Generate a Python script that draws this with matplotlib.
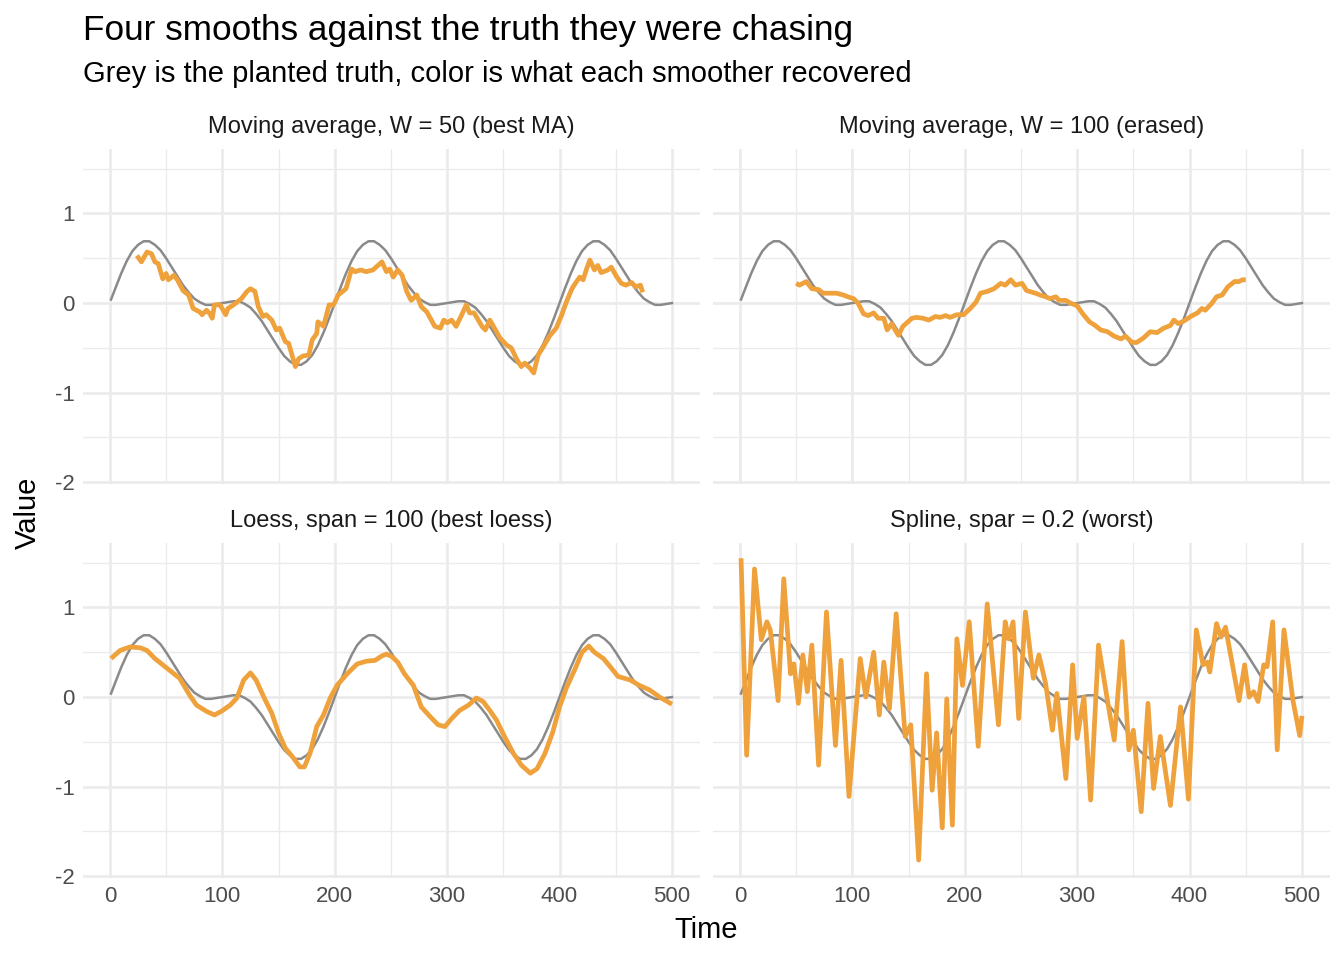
"""Four smoothers (MA, loess, spline) plotted against the planted truth."""
import matplotlib
matplotlib.use('Agg')
import matplotlib.pyplot as plt

plt.rcParams['font.family'] = ['Liberation Sans', 'DejaVu Sans']

# Planted truth
truth_t = [1] + list(range(5, 501, 5))
truth_v = [
    0.04, 0.17, 0.33, 0.47, 0.58, 0.65, 0.69, 0.69, 0.65, 0.59,
    0.50, 0.40, 0.30, 0.20, 0.12, 0.05, 0.01, -0.02, -0.02, -0.01,
    0.00, 0.01, 0.02, 0.02, -0.01, -0.05, -0.12, -0.20, -0.30, -0.40,
    -0.50, -0.59, -0.65, -0.69, -0.69, -0.65, -0.58, -0.47, -0.33, -0.17,
    0.00, 0.17, 0.33, 0.47, 0.58, 0.65, 0.69, 0.69, 0.65, 0.59,
    0.50, 0.40, 0.30, 0.20, 0.12, 0.05, 0.01, -0.02, -0.02, -0.01,
    0.00, 0.01, 0.02, 0.02, -0.01, -0.05, -0.12, -0.20, -0.30, -0.40,
    -0.50, -0.59, -0.65, -0.69, -0.69, -0.65, -0.58, -0.47, -0.33, -0.17,
    0.00, 0.17, 0.33, 0.47, 0.58, 0.65, 0.69, 0.69, 0.65, 0.59,
    0.50, 0.40, 0.30, 0.20, 0.12, 0.05, 0.01, -0.02, -0.02, -0.01,
    0.00,
]

# Moving average, W = 50
ma50_t = [24, 28, 33, 37, 40, 43, 47, 50, 52, 57, 60, 65, 70, 74, 80, 82, 86, 89,
          91, 93, 98, 103, 105, 110, 117, 122, 125, 129, 132, 136, 139, 144, 148,
          151, 156, 159, 162, 165, 168, 172, 177, 180, 184, 185, 190, 195, 199, 203,
          207, 210, 215, 218, 223, 228, 234, 242, 246, 249, 252, 256, 260, 264, 268,
          273, 277, 282, 289, 294, 297, 300, 304, 308, 313, 317, 320, 324, 331, 334,
          338, 343, 347, 353, 357, 362, 366, 369, 374, 377, 381, 385, 391, 397, 402,
          406, 411, 414, 418, 421, 424, 427, 431, 434, 437, 443, 446, 451, 455, 459,
          464, 468, 472, 474]
ma50_v = [0.53, 0.46, 0.57, 0.55, 0.46, 0.44, 0.27, 0.33, 0.26, 0.31, 0.26, 0.14,
          0.09, -0.06, -0.10, -0.13, -0.08, -0.12, -0.17, -0.02, -0.02, -0.13, -0.06,
          -0.02, 0.05, 0.13, 0.16, 0.13, -0.04, -0.15, -0.13, -0.19, -0.30, -0.28,
          -0.43, -0.45, -0.58, -0.71, -0.62, -0.59, -0.58, -0.41, -0.34, -0.21, -0.26,
          -0.02, -0.02, 0.09, 0.13, 0.16, 0.38, 0.35, 0.37, 0.35, 0.37, 0.46, 0.35,
          0.38, 0.29, 0.37, 0.31, 0.13, 0.03, 0.09, -0.04, -0.10, -0.26, -0.28, -0.19,
          -0.22, -0.19, -0.26, -0.13, -0.02, -0.11, -0.11, -0.26, -0.30, -0.19, -0.30,
          -0.39, -0.47, -0.50, -0.63, -0.71, -0.67, -0.73, -0.78, -0.58, -0.50, -0.37,
          -0.28, -0.13, 0.01, 0.16, 0.22, 0.29, 0.26, 0.38, 0.48, 0.37, 0.42, 0.34,
          0.37, 0.40, 0.29, 0.22, 0.20, 0.23, 0.18, 0.20, 0.12]

# Moving average, W = 100
ma100_t = [50, 53, 59, 64, 70, 74, 80, 86, 92, 96, 101, 105, 110, 114, 119, 123, 128,
           131, 135, 138, 141, 145, 153, 157, 163, 168, 174, 178, 183, 187, 193, 199,
           205, 210, 214, 220, 226, 232, 236, 241, 245, 251, 255, 263, 267, 272, 276,
           281, 284, 290, 294, 300, 305, 311, 316, 321, 327, 333, 339, 343, 349, 353,
           359, 365, 371, 377, 383, 386, 390, 395, 401, 407, 411, 414, 420, 424, 429,
           434, 440, 444, 447, 450]
ma100_v = [0.22, 0.20, 0.24, 0.16, 0.15, 0.11, 0.11, 0.11, 0.09, 0.07, 0.05, 0.00,
           -0.12, -0.14, -0.11, -0.17, -0.17, -0.30, -0.23, -0.30, -0.36, -0.26, -0.17,
           -0.16, -0.17, -0.19, -0.15, -0.16, -0.14, -0.16, -0.13, -0.13, -0.06, 0.01,
           0.11, 0.13, 0.16, 0.22, 0.20, 0.26, 0.20, 0.22, 0.14, 0.11, 0.09, 0.07, 0.05,
           0.07, 0.03, 0.03, 0.00, -0.03, -0.12, -0.21, -0.25, -0.30, -0.32, -0.37,
           -0.40, -0.37, -0.44, -0.44, -0.39, -0.32, -0.33, -0.28, -0.25, -0.19, -0.23,
           -0.20, -0.15, -0.11, -0.06, -0.08, 0.00, 0.07, 0.09, 0.18, 0.24, 0.24, 0.26,
           0.26]

# Loess, span = 100
loess_t = [1, 9, 18, 27, 33, 40, 49, 62, 71, 77, 86, 93, 99, 107, 113, 119, 125, 130,
           138, 144, 150, 156, 162, 169, 173, 178, 184, 190, 196, 202, 211, 220, 228,
           236, 242, 246, 251, 256, 262, 270, 277, 285, 292, 298, 304, 311, 319, 326,
           332, 338, 344, 351, 359, 366, 374, 380, 387, 394, 400, 406, 414, 420, 426,
           431, 439, 445, 452, 463, 471, 480, 489, 500]
loess_v = [0.43, 0.52, 0.56, 0.55, 0.52, 0.43, 0.34, 0.21, 0.02, -0.09, -0.16, -0.20,
           -0.16, -0.09, -0.01, 0.19, 0.27, 0.19, -0.03, -0.18, -0.40, -0.57, -0.66,
           -0.78, -0.78, -0.63, -0.33, -0.20, -0.01, 0.13, 0.26, 0.37, 0.40, 0.41, 0.46,
           0.48, 0.45, 0.39, 0.26, 0.13, -0.11, -0.22, -0.31, -0.33, -0.24, -0.15, -0.09,
           -0.01, -0.05, -0.15, -0.26, -0.44, -0.63, -0.76, -0.85, -0.80, -0.63, -0.39,
           -0.11, 0.10, 0.32, 0.50, 0.57, 0.50, 0.43, 0.34, 0.23, 0.19, 0.13, 0.08, 0.00,
           -0.08]

# Spline, spar = 0.2
spline_t = [1, 6, 13, 19, 24, 27, 34, 39, 45, 48, 52, 56, 60, 64, 70, 77, 85, 90, 97,
            107, 112, 119, 124, 128, 133, 139, 147, 152, 159, 166, 171, 175, 180, 184,
            189, 193, 198, 204, 212, 220, 230, 236, 239, 243, 248, 254, 261, 266, 272,
            278, 282, 290, 296, 300, 306, 312, 319, 327, 333, 340, 346, 350, 357, 363,
            368, 374, 383, 392, 399, 406, 412, 416, 418, 424, 428, 432, 444, 449, 453,
            457, 461, 466, 469, 474, 478, 484, 492, 498, 500]
spline_v = [1.55, -0.65, 1.43, 0.64, 0.84, 0.75, -0.04, 1.32, 0.26, 0.37, -0.07, 0.47,
            0.06, 0.58, -0.76, 0.95, -0.54, 0.41, -1.11, 0.43, 0.00, 0.50, -0.20, 0.39,
            -0.13, 0.93, -0.44, -0.31, -1.82, 0.26, -1.04, -0.40, -1.46, -0.02, -1.43,
            0.65, 0.13, 0.84, -0.55, 1.04, -0.31, 0.84, 0.65, 0.84, -0.24, 0.95, 0.21,
            0.47, 0.15, -0.37, 0.04, -0.91, 0.36, -0.46, 0.00, -1.15, 0.58, -0.04, -0.48,
            0.62, -0.59, -0.37, -1.28, -0.07, -1.02, -0.44, -1.21, -0.11, -1.14, 0.75,
            0.36, 0.39, 0.28, 0.82, 0.67, 0.78, -0.04, 0.36, 0.00, 0.06, -0.05, 0.36,
            0.34, 0.84, -0.59, 0.75, -0.04, -0.43, -0.21]

panel_titles = ['Moving average, W = 50 (best MA)', 'Moving average, W = 100 (erased)',
                'Loess, span = 100 (best loess)', 'Spline, spar = 0.2 (worst)']
smooths = [(ma50_t, ma50_v), (ma100_t, ma100_v), (loess_t, loess_v), (spline_t, spline_v)]

W, H = 1344, 960
GRID = '#EBEBEB'
TRUTH_COL = '#8A8A8A'
SMOOTH_COL = '#EFA13B'

# panel boxes in pixels: (left, top, right, bottom)
boxes = [(83, 149, 700, 484), (713, 149, 1330, 484),
         (83, 543, 700, 878), (713, 543, 1330, 878)]


def main():
    fig = plt.figure(figsize=(W / 100, H / 100), dpi=100)

    for i, (l, t, r, b) in enumerate(boxes):
        ax = fig.add_axes([l / W, 1 - b / H, (r - l) / W, (b - t) / H])
        ax.set_xlim(-23.95, 524.95)
        ax.set_ylim(-2.02, 1.72)
        ax.set_xticks([0, 100, 200, 300, 400, 500])
        ax.set_xticks([50, 150, 250, 350, 450], minor=True)
        ax.set_yticks([-2, -1, 0, 1])
        ax.set_yticks([-1.5, -0.5, 0.5, 1.5], minor=True)
        ax.grid(which='major', color=GRID, linewidth=1.9)
        ax.grid(which='minor', color=GRID, linewidth=1.0)
        ax.set_axisbelow(True)
        for s in ax.spines.values():
            s.set_visible(False)
        ax.tick_params(which='both', length=0, labelsize=16, labelcolor='#4D4D4D', pad=6)
        if i % 2 == 1:
            ax.set_yticklabels([])
        else:
            ax.set_yticklabels(['-2', '-1', '0', '1'])
        if i < 2:
            ax.set_xticklabels([])

        ax.plot(truth_t, truth_v, color=TRUTH_COL, linewidth=1.8, solid_joinstyle='round')
        st, sv = smooths[i]
        ax.plot(st, sv, color=SMOOTH_COL, linewidth=3.4, solid_joinstyle='round',
                solid_capstyle='butt')

        fig.text((l + r) / 2 / W, 1 - (t - 22) / H, panel_titles[i], ha='center',
                 va='center', fontsize=17, color='#1A1A1A')

    fig.text(83 / W, 1 - 40 / H, 'Four smooths against the truth they were chasing',
             ha='left', va='baseline', fontsize=25.3, color='black')
    fig.text(83 / W, 1 - 82 / H, 'Grey is the planted truth, color is what each smoother recovered',
             ha='left', va='baseline', fontsize=21, color='black')
    fig.text(706 / W, 1 - 930 / H, 'Time', ha='center', va='center', fontsize=21)
    fig.text(28 / W, 1 - 513 / H, 'Value', ha='center', va='center', fontsize=21,
             rotation=90)

    fig.savefig('out.png', dpi=100, facecolor='white')
    plt.close(fig)


if __name__ == '__main__':
    main()
